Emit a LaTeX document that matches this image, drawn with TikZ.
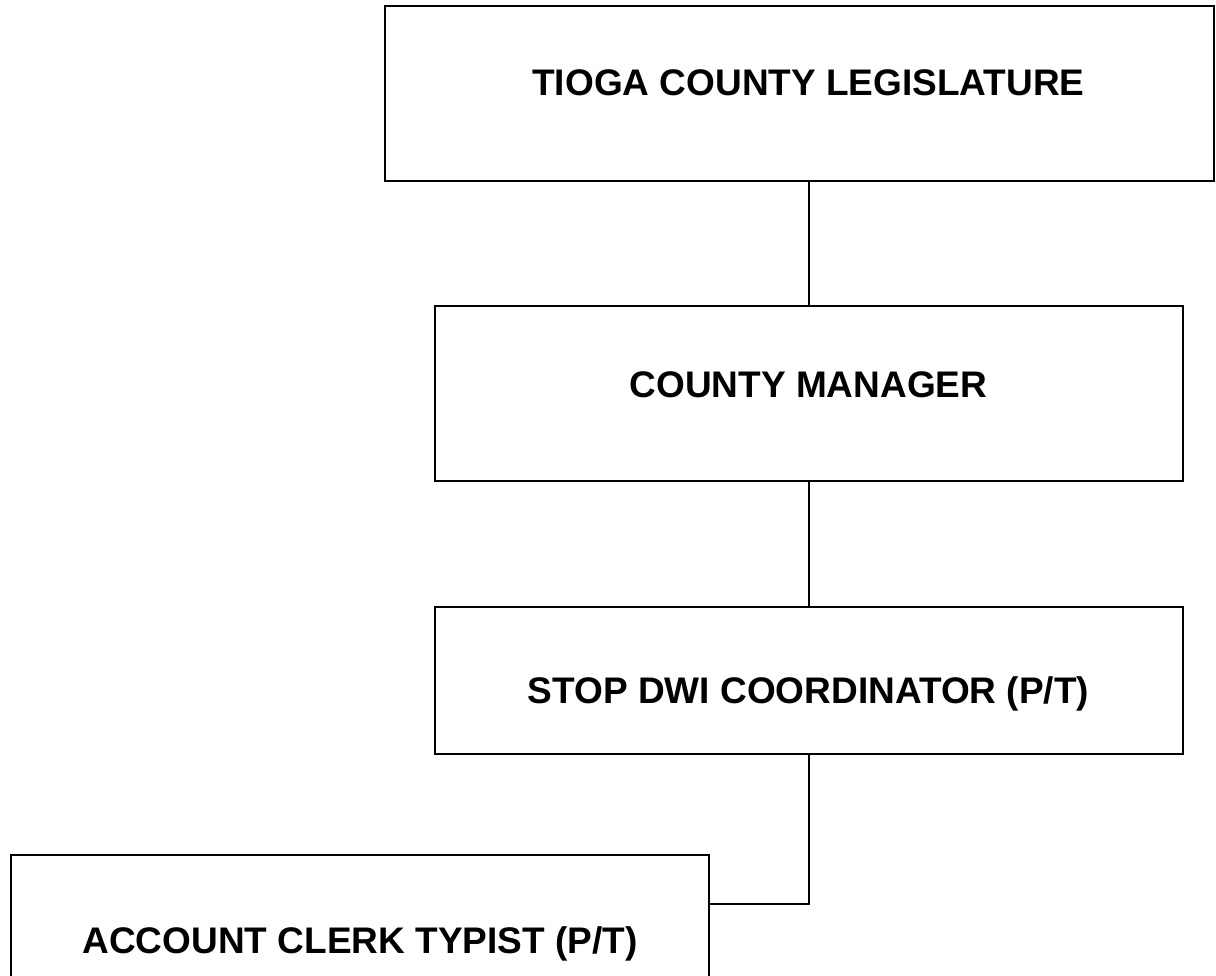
\documentclass[tikz,border=0pt]{standalone}
\usepackage{fontspec}
\setmainfont{Liberation Sans}

\tikzset{
    orgbox/.style={draw, line width=1.8pt, inner sep=0pt},
    orgtext/.style={anchor=base, inner sep=0pt, font=\fontsize{37}{44}\selectfont\bfseries},
    link/.style={line width=1.6pt}
}

\begin{document}
\begin{tikzpicture}[x=1pt,y=1pt]
    \useasboundingbox (0,0) rectangle (1216,-975);
    \node[orgbox, minimum width=829pt, minimum height=175pt] (tioga) at (799.5,-93.5) {};
    \node[orgbox, minimum width=748pt, minimum height=175pt] (manager) at (809,-393.5) {};
    \node[orgbox, minimum width=748pt, minimum height=147pt] (stopdwi) at (809,-680.5) {};
    \node[orgbox, minimum width=698pt, minimum height=160pt] (clerk) at (360,-935) {};
    \node[orgtext] (tiogatxt) at (808.5,-95) {TIOGA COUNTY LEGISLATURE};
    \node[orgtext] (managertxt) at (808.5,-397) {COUNTY MANAGER};
    \node[orgtext] (stopdwitxt) at (808.5,-703) {STOP DWI COORDINATOR (P/T)};
    \node[orgtext] (clerktxt) at (360,-953) {ACCOUNT CLERK TYPIST (P/T)};
    \coordinate (elbow) at (809,-904);
    \draw[link] (tioga.south -| manager.north) -- (manager.north);
    \draw[link] (manager.south) -- (stopdwi.north);
    \draw[link] (stopdwi.south) -- (elbow) -- (elbow -| clerk.east);
\end{tikzpicture}
\end{document}
